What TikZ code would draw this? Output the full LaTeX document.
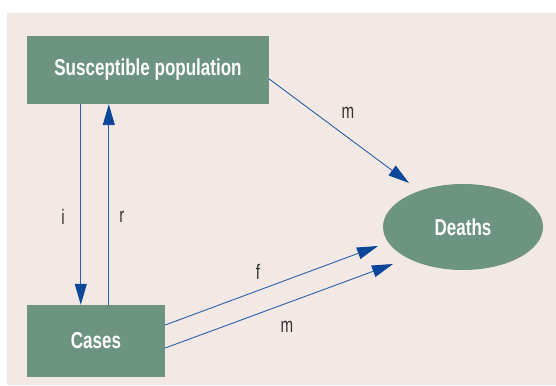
\documentclass[tikz,border=0pt]{standalone}
\usepackage{fontspec}
\usetikzlibrary{arrows.meta,shapes.geometric}
\newfontfamily\condfont[FakeStretch=0.74]{Liberation Sans}
\newfontfamily\labfont[FakeStretch=0.72]{Liberation Sans}
\definecolor{bgc}{HTML}{F2E9E5}
\definecolor{boxc}{HTML}{6D9381}
\definecolor{linec}{HTML}{2A5EAA}
\definecolor{tipc}{HTML}{0A4699}
\definecolor{labc}{HTML}{333333}
\begin{document}
\begin{tikzpicture}[x=1pt,y=1pt,
  boxnode/.style={fill=boxc,draw=none,text=white,font=\condfont\bfseries\fontsize{23}{25}\selectfont,inner sep=0pt,align=center},
  arr/.style={draw=linec,line width=0.9pt,-{Triangle[length=21pt,width=12pt,color=tipc]}},
  lab/.style={text=labc,font=\labfont\fontsize{21}{23}\selectfont,inner sep=0pt}]
\useasboundingbox (0,0) rectangle (556,385);
\fill[bgc] (7,0) rectangle (556,372);
\node[boxnode,minimum width=242pt,minimum height=68pt] (sus) at (148,315) {Susceptible population};
\node[boxnode,minimum width=138pt,minimum height=72pt] (cases) at (96,44) {Cases};
\node[boxnode,ellipse,minimum width=160pt,minimum height=86pt] (deaths) at (463,158) {Deaths};
\draw[arr] ([xshift=54pt]sus.south west) -- ([xshift=54pt]cases.north west);
\draw[arr] ([xshift=82pt]cases.north west) -- ([xshift=82pt]sus.south west);
\draw[arr] ([yshift=-9pt]sus.east) -- ([shift={(-54pt,44pt)}]deaths.center);
\draw[arr] ([yshift=16pt]cases.east) -- ([shift={(-85pt,-19pt)}]deaths.center);
\draw[arr] ([yshift=-7pt]cases.east) -- ([shift={(-70pt,-37pt)}]deaths.center);
\node[lab] (li) at (63,168) {i};
\node[lab] (lr) at (122,168) {r};
\node[lab] (lm1) at (348,272) {m};
\node[lab] (lf) at (258,113) {f};
\node[lab] (lm2) at (287,58) {m};
\end{tikzpicture}
\end{document}
